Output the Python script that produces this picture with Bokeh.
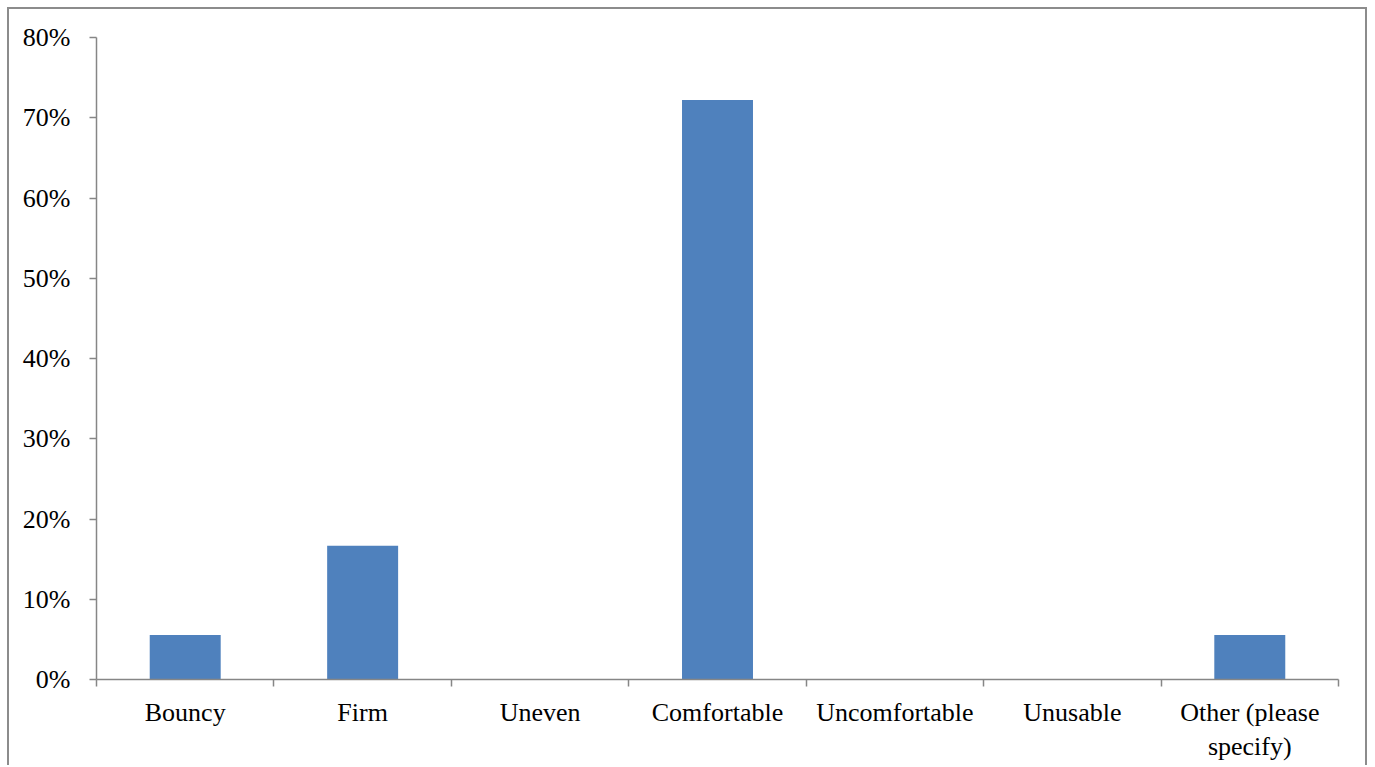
from bokeh.plotting import figure
from bokeh.models import Range1d, FixedTicker, PrintfTickFormatter
from bokeh.embed import file_html
from bokeh.resources import INLINE

categories = ["Bouncy", "Firm", "Uneven", "Comfortable", "Uncomfortable", "Unusable", "Other (please\nspecify)"]
values = [5.56, 16.67, 0.0, 72.22, 0.0, 0.0, 5.56]
y_ticks = [0, 10, 20, 30, 40, 50, 60, 70, 80]

FONT = "Liberation Serif"
AXIS_COLOR = "#868686"

p = figure(width=1360, height=758, output_backend="svg", toolbar_location=None,
           x_range=Range1d(0, len(categories)), y_range=Range1d(0, 80),
           min_border_left=87, min_border_right=31, min_border_top=28, min_border_bottom=88)
p.styles = {"border-left": "2px solid #8c8c8c", "border-top": "2px solid #8c8c8c",
            "border-right": "2px solid #8c8c8c", "margin-left": "7px", "margin-top": "7px"}
p.outline_line_color = None
p.xgrid.visible = False
p.ygrid.visible = False

centers = [i + 0.5 for i in range(len(categories))]
p.vbar(x=centers, top=values, width=0.4, bottom=0, fill_color="#4F81BD", line_color=None)

xa = p.xaxis[0]
xa.ticker = FixedTicker(ticks=centers, minor_ticks=list(range(len(categories) + 1)))
xa.major_label_overrides = {c: lab for c, lab in zip(centers, categories)}
xa.major_tick_out = 0
xa.major_tick_in = 0
xa.minor_tick_out = 7
xa.minor_tick_in = 0
xa.minor_tick_line_color = AXIS_COLOR
xa.axis_line_color = AXIS_COLOR
xa.axis_line_width = 1.5
xa.minor_tick_line_width = 1.5
xa.major_label_text_font = FONT
xa.major_label_text_font_size = "26px"
xa.major_label_text_color = "#000000"
xa.major_label_standoff = 11

ya = p.yaxis[0]
ya.ticker = FixedTicker(ticks=y_ticks, minor_ticks=[])
ya.formatter = PrintfTickFormatter(format="%d%%")
ya.major_tick_out = 7
ya.major_tick_in = 0
ya.major_tick_line_color = AXIS_COLOR
ya.major_tick_line_width = 1.5
ya.axis_line_color = AXIS_COLOR
ya.axis_line_width = 1.5
ya.minor_tick_line_color = None
ya.major_label_text_font = FONT
ya.major_label_text_font_size = "26px"
ya.major_label_text_color = "#000000"
ya.major_label_standoff = 19

open("out.html", "w").write(file_html(p, INLINE))
